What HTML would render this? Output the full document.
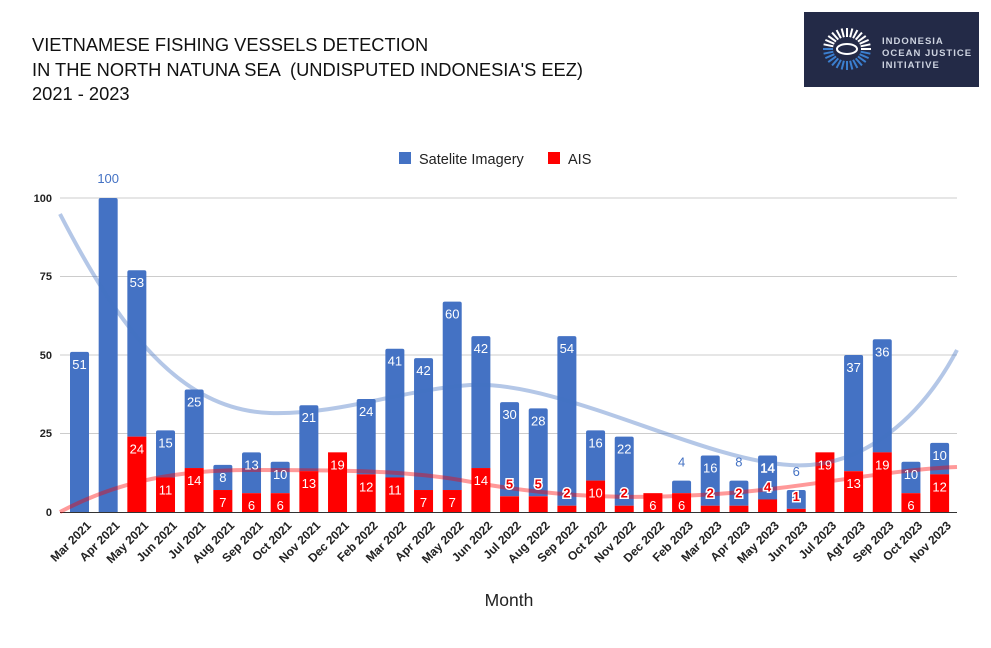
<!DOCTYPE html><html><head><style>body{margin:0;background:#fff;width:991px;height:643px;overflow:hidden;font-family:"Liberation Sans",Roboto,sans-serif}</style></head><body>
<svg id="s" width="991" height="643" xmlns="http://www.w3.org/2000/svg" font-family="Liberation Sans, sans-serif">
<g font-size="18.3" fill="#111">
<text x="32" y="51">VIETNAMESE FISHING VESSELS DETECTION</text>
<text x="32" y="76">IN THE NORTH NATUNA SEA &#160;(UNDISPUTED INDONESIA'S EEZ)</text>
<text x="32" y="100">2021 - 2023</text></g>
<rect x="804" y="12" width="175" height="75" fill="#232a47"/>
<g transform="translate(847,49)">
<g id="rays"></g>
<ellipse cx="0" cy="0" rx="10" ry="5" fill="#232a47" stroke="#fff" stroke-width="2"/>
</g>
<g font-size="9.5" font-weight="bold" fill="#cdd3e0" letter-spacing="1">
<text x="882" y="44">INDONESIA</text>
<text x="882" y="56">OCEAN JUSTICE</text>
<text x="882" y="68">INITIATIVE</text></g>
<rect x="399" y="152" width="12" height="12" fill="#4472c4"/>
<text x="419" y="164" font-size="14.5" fill="#222">Satelite Imagery</text>
<rect x="548" y="152" width="12" height="12" fill="#ff0000"/>
<text x="568" y="164" font-size="14.5" fill="#222">AIS</text>
<g font-size="11" font-weight="bold" fill="#222" text-anchor="end">
<text x="52" y="516">0</text><text x="52" y="437">25</text><text x="52" y="359">50</text><text x="52" y="280">75</text><text x="52" y="202">100</text></g>
<g stroke="#ccc" stroke-width="1"><line x1="60" x2="957" y1="433.5" y2="433.5"/><line x1="60" x2="957" y1="355" y2="355"/><line x1="60" x2="957" y1="276.5" y2="276.5"/><line x1="60" x2="957" y1="198" y2="198"/></g>
<g id="bars"></g>
<line x1="60" x2="957" y1="512.5" y2="512.5" stroke="#333" stroke-width="1"/>
<path d="M60,214 C120,330 180,410 270,413 C340,415 400,390 470,385 C560,380 700,460 790,465 C860,470 920,420 957,350" fill="none" stroke="#4472c4" stroke-opacity="0.4" stroke-width="4"/>
<path d="M60,512 C120,480 180,470 250,470 C330,470 400,470 460,480 C540,495 610,500 700,495 C800,490 880,470 957,467" fill="none" stroke="#ff0000" stroke-opacity="0.4" stroke-width="4"/>
<g id="labs"></g>
<text x="509" y="606" font-size="17.5" fill="#222" text-anchor="middle">Month</text>
</svg>
<script>
var m=["Mar 2021","Apr 2021","May 2021","Jun 2021","Jul 2021","Aug 2021","Sep 2021","Oct 2021","Nov 2021","Dec 2021","Feb 2022","Mar 2022","Apr 2022","May 2022","Jun 2022","Jul 2022","Aug 2022","Sep 2022","Oct 2022","Nov 2022","Dec 2022","Feb 2023","Mar 2023","Apr 2023","May 2023","Jun 2023","Jul 2023","Agt 2023","Sep 2023","Oct 2023","Nov 2023"];
var sat=[51,100,53,15,25,8,13,10,21,0,24,41,42,60,42,30,28,54,16,22,0,4,16,8,14,6,0,37,36,10,10];
var ais=[0,0,24,11,14,7,6,6,13,19,12,11,7,7,14,5,5,2,10,2,6,6,2,2,4,1,19,13,19,6,12];
var b="",l="",k=3.14,B=512;
function T(x,y,t,c,ex){return '<text x="'+x+'" y="'+y+'" font-size="13" fill="'+c+'" text-anchor="middle" '+(ex||'')+'>'+t+'</text>';}
for(var i=0;i<31;i++){var cx=79.5+i*28.67,x=cx-9.5,a=ais[i],s=sat[i];
 var ya=B-a*k,ys=ya-s*k;
 if(s>0)b+='<path d="M'+x+','+ya+'V'+(ys+2)+'Q'+x+','+ys+' '+(x+2)+','+ys+'H'+(x+17)+'Q'+(x+19)+','+ys+' '+(x+19)+','+(ys+2)+'V'+ya+'Z" fill="#4472c4"/>';
 if(a>0)b+='<rect x="'+x+'" y="'+ya+'" width="19" height="'+(a*k)+'" fill="#ff0000"/>';
 if(s>0){ if(s==100) l+=T(cx,ys-15,s,'#4472c4');
  else if(s>=8&&i!=23) l+=T(cx,ys+17,s,'#fff',s==14&&i==24?'stroke="#fff" stroke-width="0.5"':'');
  else l+=T(cx,ys-14,s,'#4472c4');}
 if(a>0){ if(a>=6) l+=T(cx,ya+17,a,'#fff');
  else l+='<text x="'+cx+'" y="'+(ya-8)+'" font-size="13" font-weight="bold" fill="#e00" stroke="#fff" stroke-width="3" paint-order="stroke" text-anchor="middle">'+a+'</text>';}
 l+='<text transform="translate('+(cx+6)+',520) rotate(-45)" font-size="12" font-weight="bold" fill="#222" text-anchor="end" dominant-baseline="hanging">'+m[i]+'</text>';
}
document.getElementById("bars").innerHTML=b;document.getElementById("labs").innerHTML=l;
var r="";for(var j=0;j<28;j++){var t=j/28*Math.PI*2,c=Math.cos(t),sn=Math.sin(t);var col=(sn>0)?"#3b7fd0":"#ffffff";r+='<line x1="'+(c*14)+'" y1="'+(sn*12)+'" x2="'+(c*24)+'" y2="'+(sn*21)+'" stroke="'+col+'" stroke-width="2"/>';}
document.getElementById("rays").innerHTML=r;
</script></body></html>
